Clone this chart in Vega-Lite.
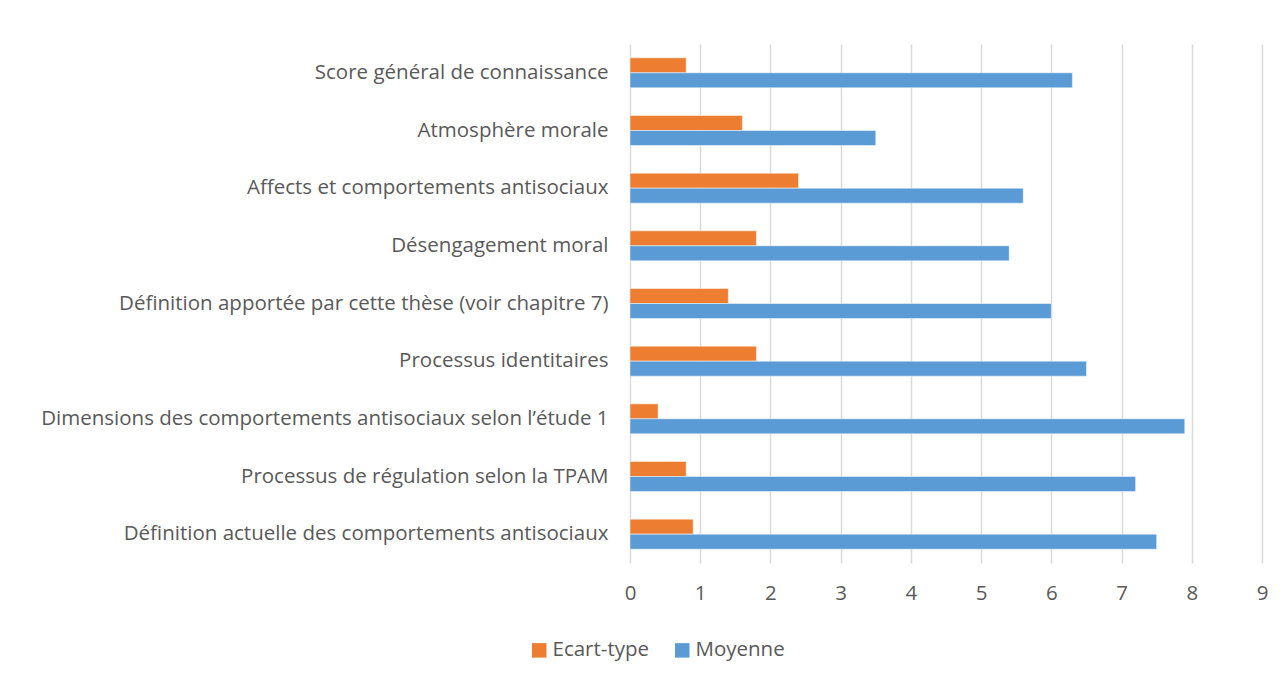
{
  "$schema": "https://vega.github.io/schema/vega-lite/v6.json",
  "width": 632,
  "height": 519,
  "autosize": {"type": "none"},
  "padding": {"left": 630, "top": 44, "right": 24, "bottom": 116},
  "background": "white",
  "config": {
    "view": {"stroke": null},
    "font": "Open Sans"
  },
  "data": {
    "values": [
      {"cat": "Score général de connaissance ", "serie": "Ecart-type", "val": 0.8},
      {"cat": "Score général de connaissance ", "serie": "Moyenne", "val": 6.3},
      {"cat": "Atmosphère morale", "serie": "Ecart-type", "val": 1.6},
      {"cat": "Atmosphère morale", "serie": "Moyenne", "val": 3.5},
      {"cat": "Affects et comportements antisociaux", "serie": "Ecart-type", "val": 2.4},
      {"cat": "Affects et comportements antisociaux", "serie": "Moyenne", "val": 5.6},
      {"cat": "Désengagement moral", "serie": "Ecart-type", "val": 1.8},
      {"cat": "Désengagement moral", "serie": "Moyenne", "val": 5.4},
      {"cat": "Définition apportée par cette thèse (voir chapitre 7)", "serie": "Ecart-type", "val": 1.4},
      {"cat": "Définition apportée par cette thèse (voir chapitre 7)", "serie": "Moyenne", "val": 6.0},
      {"cat": "Processus identitaires", "serie": "Ecart-type", "val": 1.8},
      {"cat": "Processus identitaires", "serie": "Moyenne", "val": 6.5},
      {"cat": "Dimensions des comportements antisociaux selon l’étude 1", "serie": "Ecart-type", "val": 0.4},
      {"cat": "Dimensions des comportements antisociaux selon l’étude 1", "serie": "Moyenne", "val": 7.9},
      {"cat": "Processus de régulation selon la TPAM", "serie": "Ecart-type", "val": 0.8},
      {"cat": "Processus de régulation selon la TPAM", "serie": "Moyenne", "val": 7.2},
      {"cat": "Définition actuelle des comportements antisociaux", "serie": "Ecart-type", "val": 0.9},
      {"cat": "Définition actuelle des comportements antisociaux", "serie": "Moyenne", "val": 7.5}
    ]
  },
  "mark": {"type": "bar", "stroke": "white", "strokeWidth": 0.8, "strokeOpacity": 0.6},
  "encoding": {
    "y": {
      "field": "cat",
      "type": "nominal",
      "sort": [
        "Score général de connaissance ",
        "Atmosphère morale",
        "Affects et comportements antisociaux",
        "Désengagement moral",
        "Définition apportée par cette thèse (voir chapitre 7)",
        "Processus identitaires",
        "Dimensions des comportements antisociaux selon l’étude 1",
        "Processus de régulation selon la TPAM",
        "Définition actuelle des comportements antisociaux"
      ],
      "scale": {"paddingInner": 0.48, "paddingOuter": 0.24},
      "axis": {
        "title": null,
        "domain": false,
        "ticks": false,
        "labelFontSize": 20.5,
        "labelColor": "#595959",
        "labelPadding": 22,
        "labelLimit": 0
      }
    },
    "yOffset": {"field": "serie", "type": "nominal", "sort": ["Ecart-type", "Moyenne"], "scale": {"paddingInner": 0, "paddingOuter": 0}},
    "x": {
      "field": "val",
      "type": "quantitative",
      "scale": {"domain": [0, 9], "nice": false},
      "axis": {
        "title": null,
        "values": [0, 1, 2, 3, 4, 5, 6, 7, 8, 9],
        "domain": false,
        "ticks": false,
        "grid": true,
        "gridColor": "#d9d9d9",
        "gridWidth": 1.5,
        "labelFlush": false,
        "labelFontSize": 20.5,
        "labelColor": "#595959",
        "labelPadding": 20
      }
    },
    "color": {
      "field": "serie",
      "type": "nominal",
      "scale": {"domain": ["Ecart-type", "Moyenne"], "range": ["#ED7D31", "#5B9BD5"]},
      "legend": {
        "title": null,
        "orient": "none",
        "direction": "horizontal",
        "legendX": -101,
        "legendY": 596,
        "symbolType": "square",
        "symbolSize": 210,
        "symbolStrokeWidth": 0,
        "labelFontSize": 20.5,
        "labelColor": "#595959",
        "labelOffset": 3,
        "columnPadding": 22,
        "padding": 0
      }
    }
  }
}
